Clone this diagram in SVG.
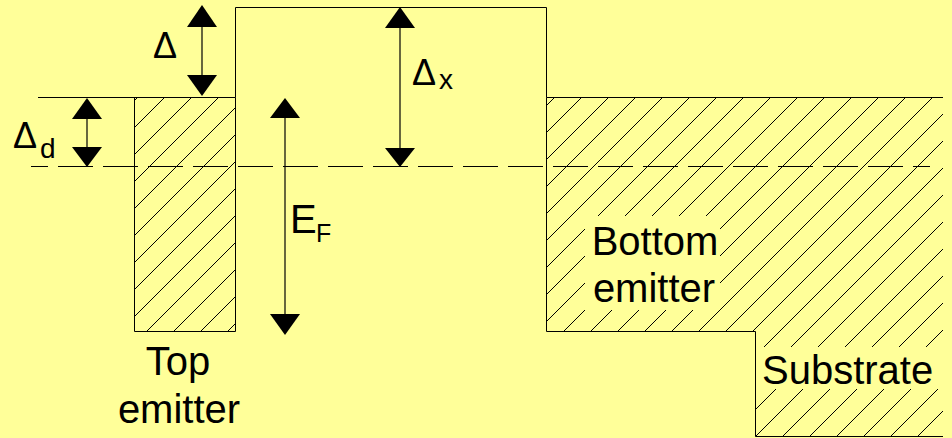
<svg xmlns="http://www.w3.org/2000/svg" width="952" height="438" viewBox="0 0 952 438">
<defs>
<pattern id="hatchA" patternUnits="userSpaceOnUse" width="27" height="27" patternTransform="translate(19,0)">
<path d="M0,27 L27,0 M-2,2 L2,-2 M25,29 L29,25" stroke="#000" stroke-width="1" fill="none"/>
</pattern>
<pattern id="hatchB" patternUnits="userSpaceOnUse" width="27" height="27" patternTransform="translate(4,0)">
<path d="M0,27 L27,0 M-2,2 L2,-2 M25,29 L29,25" stroke="#000" stroke-width="1" fill="none"/>
</pattern>
<marker id="head" viewBox="0 0 30 21" refX="15" refY="0" markerWidth="30" markerHeight="21" markerUnits="userSpaceOnUse" orient="auto-start-reverse">
<path d="M0,21 L15,0 L30,21 Z" fill="#000"/>
</marker>
</defs>
<style>
.edge{stroke:#000;stroke-width:1;fill:none}
.lbl{font-family:"Liberation Sans",Arial,sans-serif;fill:#000}
.big{font-size:40px}
.delta{font-size:36px}
.sub{font-size:28px}
.shaft{stroke:#000;stroke-width:1.2;fill:none}
.tri{fill:#000}
</style>
<rect x="0" y="0" width="952" height="438" fill="#FFFF99"/>

<g id="fermi-level">
<line x1="31" y1="166.5" x2="930" y2="166.5" stroke="#000" stroke-width="1" stroke-dasharray="35 10" stroke-dashoffset="18"/>
</g>

<g id="top-emitter">
<rect x="134.5" y="97.5" width="101" height="234" fill="url(#hatchA)"/>
<path class="edge" d="M38,97.5 L235.5,97.5 M134.5,97.5 L134.5,331.5 L235.5,331.5 L235.5,97.5"/>
<text class="lbl big" x="178" y="375" text-anchor="middle">Top</text>
<text class="lbl big" x="179" y="423" text-anchor="middle">emitter</text>
</g>

<g id="barrier">
<path class="edge" d="M235.5,97.5 L235.5,7.5 L546.5,7.5 L546.5,97.5"/>
</g>

<g id="bottom-emitter">
<path d="M546.5,97.5 L943,97.5 L943,436.5 L755.5,436.5 L755.5,331.5 L546.5,331.5 Z" fill="url(#hatchB)"/>
<rect x="585" y="216" width="135" height="94" fill="#FFFF99"/>
<path class="edge" d="M546.5,97.5 L943,97.5 M546.5,97.5 L546.5,331.5 L755.5,331.5 L755.5,436.5 L943,436.5"/>
<text class="lbl big" x="655" y="255" text-anchor="middle">Bottom</text>
<text class="lbl big" x="654" y="302" text-anchor="middle">emitter</text>
</g>

<g id="substrate">
<rect x="756" y="347" width="187" height="42" fill="#FFFF99"/>
<text class="lbl big" x="762" y="384">Substrate</text>
</g>

<g id="connectors">
<line class="shaft" x1="202" y1="20" x2="202" y2="80"/>
<polygon class="tri" points="202,5 217,27 187,27"/>
<polygon class="tri" points="202,96 217,75 187,75"/>

<line class="shaft" x1="87" y1="110" x2="87" y2="155"/>
<polygon class="tri" points="87,98 102,119 72,119"/>
<polygon class="tri" points="87,167 102,147 72,147"/>

<line class="shaft" x1="285" y1="110" x2="285" y2="320"/>
<polygon class="tri" points="285,98 300,118 270,118"/>
<polygon class="tri" points="285,335 300,314 270,314"/>

<line class="shaft" x1="400" y1="20" x2="400" y2="155"/>
<polygon class="tri" points="400,7 415,28 385,28"/>
<polygon class="tri" points="400,167 415,148 385,148"/>
</g>

<g id="labels">
<text class="lbl delta" x="153" y="58">Δ</text>
<text class="lbl delta" x="13" y="148">Δ<tspan class="sub" x="40" y="158">d</tspan></text>
<text class="lbl delta" x="412" y="85">Δ<tspan class="sub" x="439" y="89">x</tspan></text>
<text class="lbl big" x="290" y="233">E<tspan font-size="25px" x="316" y="242">F</tspan></text>
</g>
</svg>
